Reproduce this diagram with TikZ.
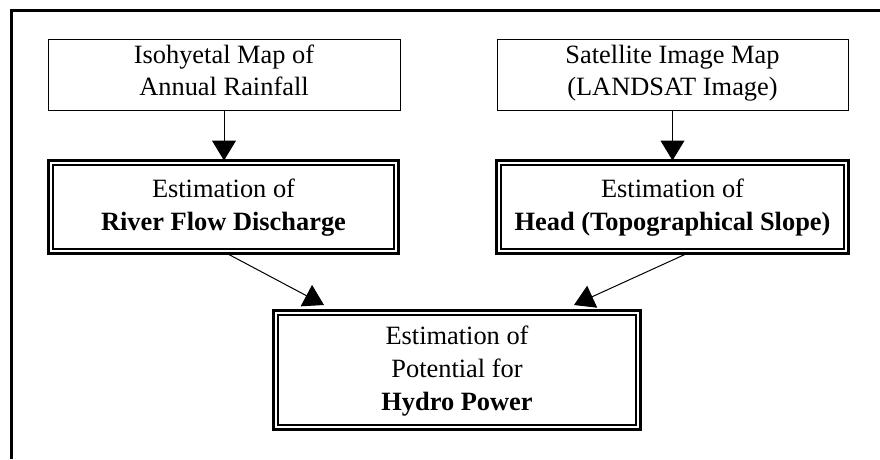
\documentclass[tikz,border=0pt]{standalone}
\usepackage{fontspec}
\setmainfont{Liberation Serif}[FakeStretch=1.0]
\usetikzlibrary{arrows.meta,calc}

% first-line height and last-line depth fix the vertical placement of the text
\newcommand{\toprule}[1]{\rule{0pt}{#1pt}}
\newcommand{\botrule}[1]{\rule[-#1pt]{0pt}{#1pt}}

\begin{document}
\begin{tikzpicture}[x=1pt,y=-1pt,
  box/.style={draw, line width=1pt, inner sep=0pt, outer sep=0pt,
    anchor=north west, align=center,
    font=\fontsize{26.4}{32.5}\selectfont},
  dbox/.style={box, line width=2.6pt, font=\fontsize{26.4}{33}\selectfont},
  innerline/.style={line width=1.3pt},
  frame/.style={line width=2.6pt, line join=miter},
  link/.style={line width=1pt, -{Triangle[length=20pt,width=24pt]}},
]
\useasboundingbox[fill=white] (0,0) rectangle (880,459);

% outer frame (open to the right and bottom)
\draw[frame] (11.7,459) -- (11.7,10.7) -- (880,10.7);

% input maps
\node[box, minimum width=352] (n1) at (48,39)
  {\toprule{24}Isohyetal Map of\\Annual Rainfall\botrule{14.5}};
\node[box, minimum width=351] (n2) at (497,39)
  {\toprule{24}Satellite Image Map\\(LANDSAT Image)\botrule{14.5}};

% estimation steps
\node[dbox, minimum width=350] (n3) at (48.5,160.5)
  {\toprule{36.5}Estimation of\\\textbf{River Flow Discharge}\botrule{23.5}};
\node[dbox, minimum width=352] (n4) at (496.5,160.5)
  {\toprule{36.5}Estimation of\\\textbf{Head (Topographical Slope)}\botrule{23.5}};
\node[dbox, minimum width=367] (n5) at (273.5,310.5)
  {\toprule{33.5}Estimation of\\Potential for\\\textbf{Hydro Power}\botrule{19.5}};

% inner line of the double borders
\foreach \n in {n3,n4,n5}
  \draw[innerline] ($(\n.north west)+(4.5,4.5)$) rectangle ($(\n.south east)+(-4.5,-4.5)$);

% connectors
\coordinate (t1) at ($(n5.north west)+(50.5,-5.5)$);
\coordinate (t2) at ($(n5.north east)+(-66.5,-5.5)$);
\draw[link] (n1.south) -- (n1.south |- n3.north);
\draw[link] (n2.south) -- (n2.south |- n4.north);
\draw[link] ($(n3.south)+(3.5,0)$) -- (t1);
\draw[link] ($(n4.south)+(14.5,0)$) -- (t2);
\end{tikzpicture}
\end{document}
